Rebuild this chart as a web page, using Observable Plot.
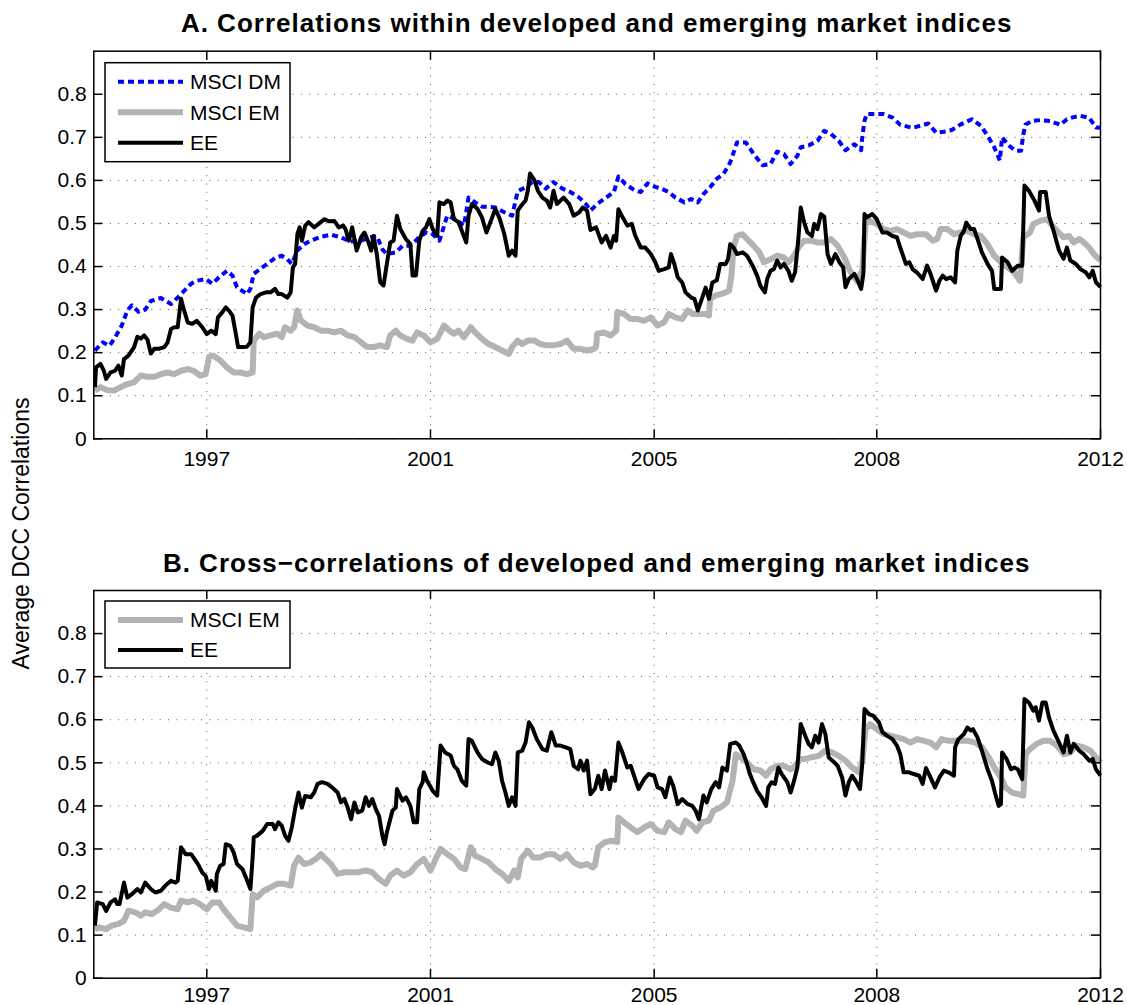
<!DOCTYPE html>
<html><head><meta charset="utf-8">
<script src="https://cdn.jsdelivr.net/npm/d3@7"></script>
<script src="https://cdn.jsdelivr.net/npm/@observablehq/plot@0.6"></script>
<style>
html,body{margin:0;padding:0;background:#fff;}
#root{position:relative;width:1127px;height:1005px;overflow:hidden;background:#fff;font-family:"Liberation Sans",Arial,Helvetica,sans-serif;}
</style></head>
<body><div id="root"></div>
<script>
// ---- tick positions (weekly observation index) and labels ----
const xTickPos = [101, 301, 501, 700, 900];
const xTickLabels = ["1997", "2001", "2005", "2008", "2012"];
const yTicks = [0, 0.1, 0.2, 0.3, 0.4, 0.5, 0.6, 0.7, 0.8];
const titleA = "A. Correlations within developed and emerging market indices";
const titleB = "B. Cross\u2212correlations of developed and emerging market indices";
const yLabel = "Average DCC Correlations";
const seriesNames = ["MSCI DM", "MSCI EM", "EE"];

// ---- Panel A: [observation index, average DCC correlation] ----
const aDM = [[1,.205],[8,.224],[14,.216],[19,.235],[25,.263],[30,.298],[34,.31],[40,.295],[46,.30],[51,.32],[60,.327],[69,.313],[75,.328],[81,.344],[87,.36],[92,.367],[100,.371],[106,.36],[112,.375],[119,.39],[124,.379],[128,.352],[137,.336],[140,.348],[143,.383],[149,.395],[155,.406],[162,.42],[168,.425],[173,.417],[177,.406],[182,.437],[188,.452],[194,.46],[203,.469],[212,.474],[221,.468],[229,.458],[239,.46],[247,.468],[253,.471],[258,.44],[262,.429],[270,.433],[276,.448],[283,.448],[291,.468],[297,.479],[303,.475],[309,.46],[316,.518],[323,.51],[331,.495],[335,.56],[341,.549],[347,.539],[353,.539],[359,.537],[367,.526],[374,.518],[379,.575],[386,.584],[392,.596],[398,.596],[404,.581],[411,.596],[419,.581],[426,.573],[434,.56],[440,.545],[444,.53],[450,.545],[458,.56],[465,.573],[469,.609],[475,.592],[483,.578],[489,.573],[495,.593],[502,.585],[508,.58],[514,.573],[520,.56],[528,.549],[534,.557],[540,.549],[545,.568],[551,.584],[557,.604],[563,.615],[569,.642],[575,.688],[583,.688],[590,.661],[598,.635],[605,.638],[611,.667],[617,.661],[623,.638],[629,.657],[632,.677],[639,.681],[647,.692],[653,.715],[659,.708],[666,.692],[672,.670],[680,.684],[686,.670],[687,.70],[689,.738],[691,.754],[699,.754],[706,.754],[714,.746],[721,.729],[732,.722],[739,.727],[746,.732],[753,.711],[760,.713],[767,.717],[775,.730],[785,.742],[793,.727],[799,.704],[805,.677],[810,.646],[812,.70],[818,.681],[824,.669],[829,.669],[831,.707],[833,.730],[839,.738],[846,.740],[855,.738],[864,.729],[870,.742],[876,.747],[882,.750],[890,.745],[896,.723],[900,.722]];

const aEM = [[1,.112],[6,.12],[12,.113],[18,.112],[24,.12],[30,.127],[36,.131],[42,.147],[48,.144],[54,.144],[60,.15],[66,.154],[72,.15],[78,.158],[84,.162],[89,.158],[95,.147],[100,.15],[103,.19],[107,.193],[113,.182],[119,.166],[125,.154],[131,.154],[137,.15],[142,.154],[143,.228],[148,.244],[152,.236],[158,.24],[164,.244],[168,.236],[171,.259],[176,.251],[179,.259],[182,.298],[185,.275],[191,.263],[197,.259],[203,.251],[209,.251],[215,.247],[221,.251],[227,.24],[233,.236],[239,.224],[244,.214],[250,.213],[256,.217],[262,.213],[265,.24],[270,.251],[274,.24],[280,.232],[285,.228],[289,.247],[295,.24],[301,.224],[307,.232],[313,.263],[318,.251],[322,.244],[326,.251],[331,.236],[337,.259],[341,.247],[347,.232],[353,.22],[359,.213],[365,.205],[371,.197],[374,.213],[379,.228],[383,.22],[388,.228],[394,.228],[399,.22],[405,.217],[411,.217],[417,.22],[423,.228],[429,.209],[435,.209],[441,.205],[447,.209],[449,.213],[450,.244],[456,.247],[462,.24],[467,.251],[468,.294],[474,.29],[480,.278],[486,.278],[492,.274],[498,.282],[504,.263],[510,.271],[514,.29],[520,.282],[526,.278],[531,.298],[535,.29],[541,.29],[547,.29],[550,.286],[551,.325],[556,.333],[562,.337],[568,.344],[570,.379],[572,.444],[575,.471],[580,.475],[584,.464],[590,.448],[595,.433],[599,.41],[605,.417],[611,.425],[617,.421],[621,.41],[626,.425],[630,.444],[635,.46],[641,.46],[647,.456],[653,.456],[659,.464],[665,.448],[671,.421],[676,.39],[682,.367],[687,.39],[690,.499],[694,.506],[700,.499],[706,.487],[712,.483],[718,.487],[724,.479],[730,.471],[736,.475],[744,.475],[750,.46],[754,.464],[757,.487],[763,.487],[769,.475],[775,.479],[781,.483],[787,.475],[793,.471],[799,.452],[805,.425],[811,.41],[817,.398],[823,.386],[828,.367],[831,.468],[837,.479],[840,.499],[846,.506],[852,.51],[857,.495],[861,.483],[867,.468],[872,.471],[876,.456],[881,.464],[885,.456],[890,.444],[894,.429],[900,.414]];

const aEE = [[1,.12],[2,.166],[6,.174],[9,.158],[11,.139],[15,.154],[19,.158],[22,.17],[25,.147],[27,.185],[31,.193],[36,.213],[39,.237],[42,.233],[45,.24],[48,.23],[51,.198],[54,.209],[58,.209],[63,.213],[66,.224],[69,.255],[72,.259],[75,.259],[78,.325],[80,.305],[84,.27],[88,.267],[92,.274],[97,.259],[101,.243],[105,.251],[109,.243],[111,.282],[115,.294],[118,.305],[121,.297],[124,.286],[127,.243],[129,.213],[133,.213],[137,.214],[140,.224],[142,.305],[145,.328],[149,.336],[154,.34],[158,.34],[162,.348],[165,.336],[168,.336],[173,.328],[176,.34],[178,.398],[180,.406],[182,.475],[184,.491],[186,.46],[189,.495],[192,.503],[197,.491],[201,.499],[206,.51],[210,.505],[215,.506],[219,.491],[223,.495],[225,.487],[228,.46],[231,.491],[235,.437],[239,.468],[242,.479],[245,.46],[248,.437],[250,.471],[253,.429],[256,.364],[259,.356],[262,.406],[265,.456],[268,.46],[271,.518],[274,.487],[279,.464],[283,.452],[285,.379],[288,.379],[291,.46],[294,.483],[297,.491],[300,.51],[303,.487],[307,.471],[309,.549],[313,.545],[316,.553],[319,.549],[322,.51],[326,.503],[329,.483],[333,.456],[335,.518],[338,.545],[343,.534],[347,.514],[351,.479],[355,.506],[359,.534],[363,.51],[367,.475],[371,.425],[374,.437],[377,.425],[379,.53],[382,.541],[386,.553],[388,.576],[390,.616],[394,.60],[397,.576],[401,.56],[405,.553],[408,.537],[411,.576],[414,.545],[420,.56],[425,.545],[429,.518],[434,.526],[437,.537],[441,.53],[444,.485],[449,.491],[454,.456],[458,.471],[462,.444],[465,.471],[467,.46],[469,.533],[472,.518],[477,.495],[481,.499],[484,.472],[489,.444],[493,.444],[498,.429],[502,.41],[505,.39],[510,.394],[514,.398],[516,.429],[519,.406],[522,.375],[526,.363],[529,.34],[534,.328],[537,.325],[540,.298],[544,.328],[547,.351],[550,.325],[553,.363],[557,.368],[560,.406],[565,.406],[567,.417],[569,.452],[572,.444],[575,.429],[580,.433],[584,.425],[589,.402],[593,.379],[596,.355],[600,.34],[602,.371],[605,.39],[608,.394],[611,.414],[614,.398],[617,.406],[621,.39],[624,.367],[627,.387],[630,.468],[632,.537],[635,.503],[638,.479],[642,.471],[644,.499],[647,.487],[650,.522],[653,.516],[656,.429],[659,.406],[663,.429],[667,.408],[670,.398],[672,.352],[675,.371],[680,.383],[683,.367],[686,.348],[688,.383],[689,.522],[691,.514],[696,.522],[700,.51],[705,.479],[709,.479],[714,.471],[718,.468],[721,.444],[726,.406],[729,.41],[732,.394],[736,.386],[741,.371],[745,.402],[748,.383],[753,.344],[756,.367],[759,.379],[762,.371],[766,.375],[770,.363],[772,.437],[775,.471],[778,.483],[780,.502],[784,.487],[787,.487],[790,.464],[794,.433],[799,.406],[803,.39],[805,.348],[811,.348],[812,.421],[817,.41],[821,.39],[826,.402],[830,.402],[832,.588],[836,.576],[841,.553],[845,.53],[846,.573],[851,.573],[854,.518],[858,.483],[863,.437],[867,.418],[870,.444],[873,.414],[878,.406],[882,.394],[887,.386],[890,.375],[893,.39],[896,.363],[900,.352]];

// ---- Panel B: cross-correlations ----
const bEM = [[1,.114],[5,.118],[11,.114],[16,.122],[22,.126],[27,.133],[31,.157],[37,.153],[42,.145],[46,.153],[52,.149],[57,.157],[63,.172],[69,.164],[75,.16],[78,.18],[84,.176],[89,.18],[95,.172],[101,.16],[106,.176],[112,.176],[116,.16],[122,.141],[128,.122],[134,.118],[140,.114],[142,.195],[146,.188],[152,.203],[158,.211],[164,.219],[170,.219],[176,.215],[179,.261],[183,.28],[188,.265],[194,.269],[200,.28],[203,.288],[206,.28],[212,.265],[218,.242],[224,.246],[230,.246],[236,.246],[243,.25],[249,.246],[255,.23],[261,.219],[265,.238],[271,.25],[277,.238],[283,.246],[289,.265],[295,.277],[301,.25],[307,.284],[310,.3],[316,.288],[322,.277],[328,.257],[332,.253],[337,.304],[341,.284],[347,.277],[353,.269],[359,.253],[365,.242],[371,.226],[376,.25],[379,.234],[382,.277],[388,.296],[393,.28],[399,.28],[405,.288],[411,.288],[417,.277],[423,.288],[429,.269],[435,.261],[441,.265],[446,.257],[448,.262],[451,.304],[453,.308],[457,.316],[463,.319],[468,.316],[469,.373],[474,.362],[480,.35],[486,.339],[492,.35],[498,.358],[504,.342],[510,.339],[514,.362],[520,.346],[525,.339],[529,.366],[535,.354],[539,.342],[544,.362],[550,.366],[554,.389],[560,.396],[566,.408],[571,.458],[574,.52],[578,.513],[584,.501],[590,.485],[596,.482],[601,.47],[605,.485],[611,.493],[617,.493],[623,.485],[627,.493],[632,.509],[636,.509],[642,.513],[648,.516],[654,.528],[660,.524],[666,.516],[672,.505],[678,.489],[684,.478],[687,.505],[690,.578],[694,.59],[700,.578],[706,.567],[712,.563],[718,.559],[724,.555],[730,.547],[736,.555],[742,.551],[748,.547],[753,.536],[758,.555],[764,.551],[770,.551],[776,.551],[782,.551],[788,.547],[794,.536],[800,.513],[806,.485],[811,.466],[815,.443],[821,.431],[827,.427],[831,.424],[833,.52],[837,.532],[843,.544],[849,.551],[855,.551],[861,.54],[867,.52],[873,.524],[879,.54],[885,.536],[891,.528],[896,.513],[900,.501]];

const bEE = [[1,.122],[3,.176],[8,.172],[11,.156],[15,.176],[19,.183],[21,.172],[23,.172],[27,.222],[30,.187],[34,.195],[39,.207],[42,.199],[46,.222],[51,.207],[55,.199],[60,.203],[64,.215],[69,.226],[73,.222],[75,.226],[78,.304],[82,.288],[87,.288],[91,.273],[94,.261],[97,.245],[100,.238],[103,.207],[105,.226],[109,.203],[110,.242],[113,.261],[116,.265],[118,.311],[122,.307],[125,.292],[128,.265],[133,.253],[136,.234],[140,.207],[142,.28],[143,.327],[146,.331],[151,.342],[155,.358],[160,.358],[162,.346],[165,.362],[168,.354],[171,.331],[174,.319],[177,.35],[180,.393],[183,.431],[186,.396],[189,.423],[194,.42],[197,.431],[200,.451],[204,.455],[209,.451],[213,.443],[218,.431],[221,.408],[224,.416],[227,.396],[230,.369],[233,.408],[236,.385],[240,.389],[243,.42],[246,.4],[249,.416],[252,.393],[255,.377],[258,.331],[260,.311],[262,.339],[267,.389],[270,.396],[271,.439],[276,.412],[279,.42],[283,.4],[286,.362],[289,.362],[291,.439],[294,.455],[295,.478],[298,.458],[303,.435],[307,.424],[310,.54],[314,.524],[319,.517],[322,.493],[325,.485],[329,.458],[333,.447],[335,.555],[338,.551],[343,.524],[347,.509],[352,.501],[356,.497],[359,.524],[362,.505],[365,.458],[368,.431],[371,.4],[374,.42],[377,.4],[379,.524],[383,.528],[386,.547],[389,.594],[392,.582],[396,.555],[401,.532],[405,.528],[409,.571],[413,.54],[417,.54],[422,.536],[426,.532],[429,.493],[433,.485],[435,.505],[438,.482],[441,.505],[444,.427],[448,.44],[451,.47],[454,.439],[457,.482],[461,.439],[463,.466],[466,.458],[469,.547],[472,.528],[477,.489],[480,.493],[483,.47],[487,.439],[492,.462],[496,.474],[501,.47],[504,.443],[508,.439],[511,.42],[515,.466],[518,.447],[522,.404],[526,.416],[531,.404],[535,.4],[538,.389],[541,.369],[545,.424],[548,.408],[552,.439],[556,.455],[559,.443],[562,.489],[566,.482],[569,.544],[574,.547],[577,.54],[581,.52],[584,.497],[586,.478],[589,.458],[593,.435],[597,.42],[601,.4],[603,.443],[606,.455],[609,.451],[612,.489],[615,.474],[620,.455],[623,.431],[626,.458],[629,.489],[632,.59],[636,.563],[639,.544],[642,.536],[645,.563],[648,.547],[651,.59],[654,.567],[657,.513],[662,.501],[665,.493],[669,.466],[672,.424],[675,.455],[678,.47],[681,.458],[685,.439],[687,.497],[689,.625],[693,.613],[697,.609],[702,.594],[705,.571],[709,.563],[714,.555],[718,.54],[721,.52],[724,.478],[729,.478],[733,.474],[738,.47],[741,.451],[744,.488],[748,.466],[752,.443],[756,.466],[760,.482],[764,.478],[769,.47],[770,.536],[773,.555],[778,.567],[781,.582],[784,.575],[786,.578],[790,.559],[794,.528],[799,.485],[803,.458],[806,.427],[809,.4],[811,.404],[812,.524],[816,.509],[820,.485],[823,.489],[826,.485],[830,.462],[832,.648],[836,.64],[840,.621],[842,.629],[845,.598],[848,.64],[851,.64],[854,.605],[858,.574],[863,.547],[867,.524],[870,.563],[873,.524],[876,.544],[881,.528],[885,.52],[890,.505],[893,.509],[896,.485],[900,.47]];

// ---- drawing ----
const FONT = '"Liberation Sans", Arial, Helvetica, sans-serif';
const W = 1127, H = 1005;
const ML = 93.3, MR = 27;
const root = document.getElementById("root");

const styleDM = {name: seriesNames[0], color: "#0000ff", width: 4, dash: "6,4"};
const styleEM = {name: seriesNames[1], color: "#b3b3b3", width: 6, dash: null};
const styleEE = {name: seriesNames[2], color: "#000000", width: 4, dash: null};

function panel(lines, top, height, mt, mb, padX) {
  const fw = W - ML - MR, fh = height - mt - mb;
  const grid = {stroke: "#555", strokeOpacity: 1, strokeWidth: 1, strokeDasharray: "1,7.3"};
  const tk = {stroke: "#000", strokeWidth: 1.5};
  const marks = [
    Plot.gridY(yTicks, grid),
    Plot.gridX(xTickPos, grid),
    ...lines.map(s => Plot.line(s.data, {
      x: d => d[0], y: d => d[1], stroke: s.style.color, strokeWidth: s.style.width,
      strokeDasharray: s.style.dash || undefined, strokeLinejoin: "round", strokeLinecap: "butt"
    })),
    Plot.frame({stroke: "#000", strokeWidth: 1.5}),
    Plot.tickY(yTicks, {y: d => d, ...tk, insetRight: fw - 9}),
    Plot.tickY(yTicks, {y: d => d, ...tk, insetLeft: fw - 9}),
    Plot.tickX(xTickPos, {x: d => d, ...tk, insetBottom: fh - 9}),
    Plot.tickX(xTickPos, {x: d => d, ...tk, insetTop: fh - 9}),
    Plot.axisY(yTicks, {tickSize: 0, tickPadding: 7, label: null,
      tickFormat: d => d === 0 ? "0" : d.toFixed(1)}),
    Plot.axisX(xTickPos, {tickSize: 0, tickPadding: padX, label: null,
      tickFormat: d => xTickLabels[xTickPos.indexOf(d)]})
  ];
  const svg = Plot.plot({
    width: W, height, marginLeft: ML, marginRight: MR, marginTop: mt, marginBottom: mb,
    x: {domain: [0, 900]}, y: {domain: [0, 0.9]},
    style: {fontFamily: FONT, fontSize: "21px", color: "#000", background: "transparent", overflow: "visible"},
    marks
  });
  svg.style.position = "absolute";
  svg.style.left = "0px";
  svg.style.top = top + "px";
  root.appendChild(svg);
}

panel([{data: aDM, style: styleDM}, {data: aEM, style: styleEM}, {data: aEE, style: styleEE}], 0, 480, 50.7, 41.7, 12);
panel([{data: bEM, style: styleEM}, {data: bEE, style: styleEE}], 540, 465, 50, 27.3, 9);

// overlay: titles, y label, legends
const ov = d3.create("svg").attr("width", W).attr("height", H)
  .style("position", "absolute").style("left", "0px").style("top", "0px")
  .style("font-family", FONT);

const cx = ML + (W - ML - MR) / 2;
ov.append("text").attr("x", cx).attr("y", 31.5).attr("text-anchor", "middle")
  .attr("font-weight", "bold").attr("font-size", 26).attr("letter-spacing", "1px").text(titleA);
ov.append("text").attr("x", cx).attr("y", 572).attr("text-anchor", "middle")
  .attr("font-weight", "bold").attr("font-size", 26).attr("letter-spacing", "1px").text(titleB);
ov.append("text").attr("transform", "translate(29,533.5) rotate(-90)").attr("text-anchor", "middle")
  .attr("font-size", 23).text(yLabel);

function legend(items, x, y, w, h, row0, rowStep) {
  const g = ov.append("g");
  g.append("rect").attr("x", x).attr("y", y).attr("width", w).attr("height", h)
    .attr("fill", "#fff").attr("stroke", "#000").attr("stroke-width", 1.5);
  items.forEach((s, i) => {
    const ry = y + row0 + i * rowStep;
    g.append("line").attr("x1", x + 13).attr("x2", x + 78).attr("y1", ry).attr("y2", ry)
      .attr("stroke", s.color).attr("stroke-width", s.width)
      .attr("stroke-dasharray", s.dash);
    g.append("text").attr("x", x + 85).attr("y", ry).attr("dy", "0.35em")
      .attr("font-size", 21).text(s.name);
  });
}
legend([styleDM, styleEM, styleEE], 105, 62.7, 185, 99, 19, 30.5);
legend([styleEM, styleEE], 105, 601, 185, 67, 19, 30);

root.appendChild(ov.node());
</script>
</body></html>
